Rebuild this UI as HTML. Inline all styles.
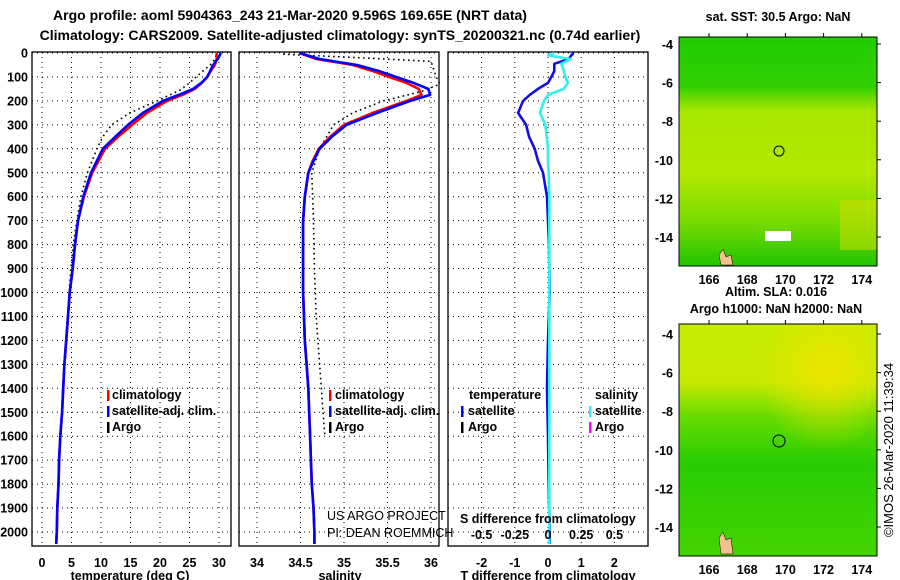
<!DOCTYPE html>
<html><head><meta charset="utf-8">
<style>
html,body{margin:0;padding:0;background:#fff;}
svg{display:block;font-family:"Liberation Sans",sans-serif;}
.b{font-weight:bold;font-size:12.5px;}
.n{font-weight:normal;font-size:12.5px;}
.t{font-weight:bold;font-size:14px;}
</style></head>
<body>
<svg id="c" width="900" height="580" viewBox="0 0 900 580">
<defs>
<linearGradient id="g1" x1="0" y1="0" x2="0" y2="1">
<stop offset="0" stop-color="#1ecc00"/><stop offset="0.22" stop-color="#33d000"/>
<stop offset="0.32" stop-color="#a6e600"/><stop offset="0.6" stop-color="#b4e800"/>
<stop offset="0.8" stop-color="#7adc00"/><stop offset="1" stop-color="#22c400"/>
</linearGradient>
<linearGradient id="g2" x1="0" y1="0" x2="0" y2="1">
<stop offset="0" stop-color="#c4ec00"/><stop offset="0.25" stop-color="#c8ea00"/>
<stop offset="0.4" stop-color="#66dc00"/><stop offset="0.6" stop-color="#28cc00"/>
<stop offset="1" stop-color="#44d400"/>
</linearGradient>
<radialGradient id="g3" cx="0.75" cy="0.2" r="0.35">
<stop offset="0" stop-color="#f0e400" stop-opacity="0.9"/><stop offset="1" stop-color="#f0e400" stop-opacity="0"/>
</radialGradient>
</defs>
<text class="t" x="290" y="20" text-anchor="middle">Argo profile: aoml 5904363_243 21-Mar-2020 9.596S 169.65E (NRT data)</text>
<text class="t" x="340" y="40" text-anchor="middle">Climatology: CARS2009. Satellite-adjusted climatology: synTS_20200321.nc (0.74d earlier)</text>
<g id="plots"></g>

<text class="b" x="778" y="21" text-anchor="middle">sat. SST: 30.5 Argo: NaN</text>
<rect x="679" y="37" width="198" height="229" fill="url(#g1)"/>
<rect x="840" y="200" width="37" height="50" fill="#d4e000" opacity="0.5"/>
<rect x="765" y="231" width="26" height="10" fill="#fff"/>
<rect x="679" y="37" width="198" height="229" fill="none" stroke="#000"/>
<circle cx="779" cy="151" r="5" fill="none" stroke="#000"/>
<path d="M719,255 l4,-6 3,8 5,-2 2,10 -12,0z" fill="#f4c090" stroke="#000" stroke-width="0.5"/>

<text class="b" x="776" y="296" text-anchor="middle">Altim. SLA: 0.016</text>
<text class="b" x="776" y="313" text-anchor="middle">Argo h1000: NaN h2000: NaN</text>
<rect x="679" y="324" width="198" height="232" fill="url(#g2)"/>
<rect x="679" y="324" width="198" height="232" fill="url(#g3)"/>
<rect x="679" y="324" width="198" height="232" fill="none" stroke="#000"/>
<circle cx="779" cy="441" r="6" fill="none" stroke="#000"/>
<path d="M719,538 l4,-6 3,8 5,-2 2,16 -12,0z" fill="#f4c090" stroke="#000" stroke-width="0.5"/>
<g id="maps"></g>
<text x="893" y="450" font-size="13" text-anchor="middle" transform="rotate(-90 893 450)">©IMOS 26-Mar-2020 11:39:34</text>
</svg>
<script>
const depths = [0,25,50,75,100,125,150,175,200,250,300,350,400,450,500,600,700,800,900,1000,1100,1200,1300,1400,1500,1600,1700,1800,1900,2000,2050];
const satT  = [30.3,29.8,29.0,28.5,28.0,27.0,25.6,23.2,20.5,17.1,14.6,12.4,10.3,9.3,8.3,7.0,6.1,5.6,5.2,4.7,4.4,4.1,3.8,3.6,3.4,3.1,2.9,2.8,2.6,2.5,2.4];
const climT = [29.6,29.6,29.3,28.6,28.0,27.1,25.9,23.8,21.2,17.8,15.3,12.9,10.7,9.6,8.5,7.1,6.1,5.6,5.2,4.7,4.4,4.1,3.8,3.6,3.4,3.1,2.9,2.8,2.6,2.5,2.4];
const satS  = [34.49,34.72,35.15,35.40,35.60,35.80,35.97,35.99,35.76,35.38,35.03,34.86,34.72,34.65,34.59,34.55,34.53,34.53,34.53,34.53,34.54,34.55,34.57,34.59,34.60,34.61,34.62,34.63,34.65,34.66,34.66];
const climS = [34.49,34.68,35.10,35.33,35.52,35.72,35.86,35.89,35.72,35.33,35.00,34.84,34.71,34.64,34.59,34.55,34.53,34.53,34.53,34.53,34.54,34.55,34.57,34.59,34.60,34.61,34.62,34.63,34.65,34.66,34.66];
const argoTD = [10,30,50,85,125,155,200,250,300,350,400,500,600,700,800,900,1000];
const argoT  = [29.5,29.2,28.5,26.8,25.0,23.4,19.5,14.9,11.8,10.3,9.3,7.7,6.6,5.9,5.3,4.9,4.6];
const argoSD = [5,20,35,100,130,160,200,250,300,400,500,700,900,1100,1300,1500,1600];
const argoS  = [34.3,35.2,36.0,36.06,36.1,35.9,35.45,35.1,34.88,34.72,34.63,34.65,34.66,34.68,34.72,34.76,34.78];
const diffD = [0,10,25,45,75,100,125,150,175,200,250,300,350,400,450,500,600,700,800,1000,1200,1400,1600,1800,2000,2050];
const diffT = [0.77,0.7,0.63,0.19,0.19,0.1,0,-0.3,-0.55,-0.75,-0.9,-0.66,-0.57,-0.4,-0.3,-0.15,-0.03,0,0.03,0.05,0,-0.03,0,0.02,0.05,0.05];
const diffS = [0.045,0,0.17,0.1,0.12,0.13,0.15,0.12,0,-0.03,-0.06,-0.02,-0.01,0,0,0.005,0.01,0.01,0.01,0.01,0.01,0.01,0.01,0.01,0.01,0.01];
const depthTicks = [0,100,200,300,400,500,600,700,800,900,1000,1100,1200,1300,1400,1500,1600,1700,1800,1900,2000];
const tempTicks = [0,5,10,15,20,25,30];
const salTicks = [34,34.5,35,35.5,36];
const dTTicks = [-2,-1,0,1,2];
const dSTicks = [-0.5,-0.25,0,0.25,0.5];
const latTicks = [-4,-6,-8,-10,-12,-14];
const lonTicks = [166,168,170,172,174];

const NS='http://www.w3.org/2000/svg';
const G=document.getElementById('plots');
function mk(tag,attrs,parent){const e=document.createElementNS(NS,tag);for(const k in attrs)e.setAttribute(k,attrs[k]);(parent||G).appendChild(e);return e;}
const yD = d => 53 + 0.2395*d;
const xT = t => 42 + 5.9*t;
const xS = s => 257 + 87*(s-34);
const xDT = v => 548 + 33.2*v;
const xDS = v => 548 + 132.8*v;
const TOP=52, BOT=546;

function panel(name,x0,x1,xf,ticks,labels,ylab){
  const r=mk('rect',{x:x0,y:TOP,width:x1-x0,height:BOT-TOP,fill:'none',stroke:'#000','stroke-width':1.3});
  
  
  depthTicks.forEach(d=>{
    const l=mk('line',{x1:x0,x2:x1,y1:yD(d),y2:yD(d),stroke:'#000','stroke-dasharray':'1 4'});
    
    
    if(ylab){
      const t=mk('text',{x:28,y:yD(d)+4.5,'text-anchor':'end','class':'b'});t.textContent=d;
      
      
    }
  });
  ticks.forEach((v,i)=>{
    const l=mk('line',{x1:xf(v),x2:xf(v),y1:TOP,y2:BOT,stroke:'#000','stroke-dasharray':'1 4'});
    
    
    if(labels){
      const t=mk('text',{x:xf(v),y:567,'text-anchor':'middle','class':'b'});t.textContent=labels[i];
      
      
    }
  });
}
panel('temperature-panel',32,231,xT,tempTicks,tempTicks,true);
panel('salinity-panel',239,439,xS,salTicks,salTicks,false);
panel('difference-panel',448,648,xDT,dTTicks,dTTicks,false);

function line(name,xs,ds,xf,color,dash,w){
  const pts=xs.map((v,i)=>xf(v).toFixed(1)+','+yD(ds[i]).toFixed(1)).join(' ');
  const p=mk('polyline',{points:pts,fill:'none',stroke:color,'stroke-width':w||2.6,'stroke-linejoin':'round'});
  if(dash)p.setAttribute('stroke-dasharray',dash);
  
  
}
line('argo-temperature',argoT,argoTD,xT,'#000','1.6 3.4',1.6);
line('climatology-temperature',climT,depths,xT,'#f00');
line('satellite-temperature',satT,depths,xT,'#00f');
line('argo-salinity',argoS,argoSD,xS,'#000','1.6 3.4',1.6);
line('climatology-salinity',climS,depths,xS,'#f00');
line('satellite-salinity',satS,depths,xS,'#00f');
line('temperature-difference',diffT,diffD,xDT,'#1010e0');
line('salinity-difference',diffS,diffD,xDS,'#30f0f0');

function txt(name,x,y,s,cls,anchor,size){
  const t=mk('text',{x:x,y:y,'class':cls||'b','text-anchor':anchor||'start'});
  if(size)t.setAttribute('font-size',size);
  t.textContent=s;
  
  
}
function bar(name,x,y,c){
  const r=mk('rect',{x:x,y:y-10,width:2.5,height:11,fill:c});
  
  
}
bar('legend-swatch-climatology',107,400,'#f00');txt('legend-climatology',112,399,'climatology');
bar('legend-swatch-satellite',107,416,'#00f');txt('legend-satellite',112,415,'satellite-adj. clim.');
bar('legend-swatch-argo',107,432,'#000');txt('legend-argo',112,431,'Argo');
bar('legend-swatch-climatology',329,400,'#f00');txt('legend-climatology',335,399,'climatology');
bar('legend-swatch-satellite',329,416,'#00f');txt('legend-satellite',335,415,'satellite-adj. clim.');
bar('legend-swatch-argo',329,432,'#000');txt('legend-argo',335,431,'Argo');
txt('legend-temperature-heading',469,399,'temperature');
txt('legend-salinity-heading',595,399,'salinity');
bar('legend-swatch-t-satellite',461,416,'#00f');txt('legend-t-satellite',468,415,'satellite');
bar('legend-swatch-t-argo',461,432,'#000');txt('legend-t-argo',468,431,'Argo');
bar('legend-swatch-s-satellite',589,416,'#30f0f0');txt('legend-s-satellite',595,415,'satellite');
bar('legend-swatch-s-argo',589,432,'#f0f');txt('legend-s-argo',595,431,'Argo');
txt('credit-project',327,520,'US ARGO PROJECT','n','start',12.5);
txt('credit-pi',327,537,'PI: DEAN ROEMMICH','n','start',12.5);
txt('s-axis-title',460,523,'S difference from climatology');
dSTicks.forEach(v=>txt('s-diff-tick-label',xDS(v),539,String(v),'b','middle'));
txt('temperature-axis-title',130,580,'temperature (deg C)','b','middle');
txt('salinity-axis-title',340,580,'salinity','b','middle');
txt('t-diff-axis-title',548,580,'T difference from climatology','b','middle');

const M=document.getElementById('maps');
function mapAxes(name,y0,lat4y,botY){
  latTicks.forEach(v=>{
    const y=lat4y+(-4-v)*19.3;
    const t=mk('text',{x:673,y:y+5,'text-anchor':'end','class':'b','font-size':13.5},M);t.textContent=v;
    
    
    const l=mk('line',{x1:877,x2:881,y1:y,y2:y,stroke:'#000'},M);
    
    
  });
  lonTicks.forEach(v=>{
    const x=709+(v-166)*19.1;
    const t=mk('text',{x:x,y:botY+18,'text-anchor':'middle','class':'b','font-size':13.5},M);t.textContent=v;
    
    
    const l=mk('line',{x1:x,x2:x,y1:y0-4,y2:y0,stroke:'#000'},M);
    
    
  });
}
mapAxes('sst-map',37,44,266);
mapAxes('sla-map',324,334,556);
</script>
</body></html>
